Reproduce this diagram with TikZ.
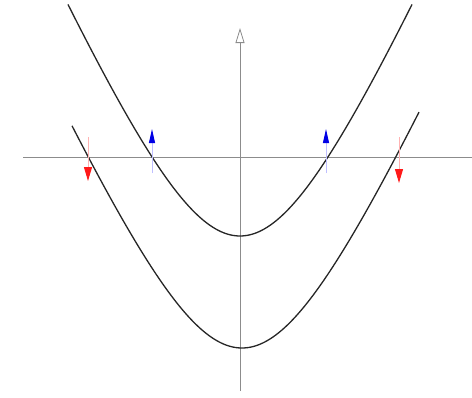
\documentclass[tikz,border=0pt]{standalone}
\usetikzlibrary{arrows.meta}
\begin{document}
\begin{tikzpicture}[x=1pt,y=-1pt,
  axis/.style={draw=black!45,line width=0.8pt},
  band/.style={draw=black!85,line width=1.3pt},
  upspin/.style={draw=blue!25,line width=1pt,-{Triangle[length=14pt,width=6pt,color=blue!90!black]}},
  downspin/.style={draw=red!30,line width=1pt,-{Triangle[length=14pt,width=8pt,color=red!90]}}]
\useasboundingbox (0,0) rectangle (472,397);
% axes
\coordinate (xl) at (23,157);
\coordinate (xr) at (472,157);
\coordinate (yb) at (240,391);
\coordinate (yt) at (240,28);
\draw[axis] (xl) -- (xr);
\draw[axis,-{Triangle[open,length=15pt,width=9pt,line width=0.8pt]}] (yb) -- (yt);
% bands
\draw[band] plot[domain=-172:172,samples=120,smooth] ({240+\x},{236-210*(sqrt(1+(\x/93)*(\x/93))-1)});
\draw[band] plot[domain=-170:177,samples=120,smooth] ({242+\x},{348-210*(sqrt(1+(\x/94.5)*(\x/94.5))-1)});
% spin arrows
\coordinate (b1s) at (152,173);
\coordinate (b1e) at (152,129);
\coordinate (b2s) at (326,173);
\coordinate (b2e) at (326,129);
\coordinate (r1s) at (88,137);
\coordinate (r1e) at (88,181);
\coordinate (r2s) at (399,137);
\coordinate (r2e) at (399,183);
\draw[upspin] (b1s) -- (b1e);
\draw[upspin] (b2s) -- (b2e);
\draw[downspin] (r1s) -- (r1e);
\draw[downspin] (r2s) -- (r2e);
\end{tikzpicture}
\end{document}
